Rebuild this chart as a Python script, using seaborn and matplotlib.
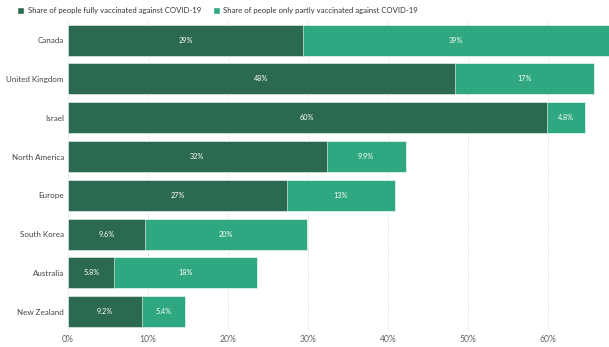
import matplotlib
matplotlib.use("Agg")
import matplotlib.pyplot as plt
import seaborn as sns
import pandas as pd
from matplotlib.patches import Patch

countries = ["Canada", "United Kingdom", "Israel", "North America", "Europe",
             "South Korea", "Australia", "New Zealand"]
fully = [29.4, 48.3, 59.8, 32.3, 27.4, 9.6, 5.8, 9.2]
partly = [39.0, 17.4, 4.8, 9.9, 13.4, 20.3, 17.8, 5.4]
fully_labels = ["29%", "48%", "60%", "32%", "27%", "9.6%", "5.8%", "9.2%"]
partly_labels = ["39%", "17%", "4.8%", "9.9%", "13%", "20%", "18%", "5.4%"]
xticks = [0, 10, 20, 30, 40, 50, 60]
legend_labels = ["Share of people fully vaccinated against COVID-19",
                 "Share of people only partly vaccinated against COVID-19"]

dark = "#2b6a50"
light = "#2fa882"
XMAX = 67.6

df = pd.DataFrame({"country": countries, "fully": fully, "partly": partly})
df["total"] = df["fully"] + df["partly"]

sns.set_theme(style="white")
plt.rcParams["font.family"] = ["Lato", "DejaVu Sans"]

fig = plt.figure(figsize=(6.09, 3.47), dpi=100)
ax = fig.add_axes([0.1117, 0.046, 0.8883, 0.894])

for x in xticks:
    ax.axvline(x, color="#d9d9d9", lw=0.7, ls=(0, (1, 1.5)), zorder=0)

sns.barplot(data=df, x="total", y="country", color=light, saturation=1,
            width=0.8, ax=ax, zorder=2, edgecolor="white", linewidth=0.4)
sns.barplot(data=df, x="fully", y="country", color=dark, saturation=1,
            width=0.8, ax=ax, zorder=3, edgecolor="white", linewidth=0.4)

for i, (f, p) in enumerate(zip(fully, partly)):
    ax.text(f / 2, i, fully_labels[i], ha="center", va="center",
            color="white", fontsize=5.2, zorder=5)
    cx = (f + min(f + p, XMAX)) / 2
    ax.text(cx, i, partly_labels[i], ha="center", va="center",
            color="white", fontsize=5.2, zorder=5)

ax.set_xlim(0, XMAX)
ax.set_ylim(7.5, -0.5)
ax.set_xticks(xticks)
ax.set_xticklabels([f"{t}%" for t in xticks], fontsize=6.2, color="#666666")
ax.tick_params(axis="y", labelsize=5.8, labelcolor="#444444", length=0, pad=3)
ax.tick_params(axis="x", length=0, pad=3)
ax.set_xlabel("")
ax.set_ylabel("")
for s in ax.spines.values():
    s.set_visible(False)

handles = [Patch(facecolor=dark), Patch(facecolor=light)]
fig.legend(handles, legend_labels, loc="upper left", bbox_to_anchor=(0.016, 1.0),
           ncol=2, frameon=False, fontsize=5.6, handlelength=0.9, handleheight=0.9,
           handletextpad=0.5, columnspacing=1.5, labelcolor="#333333")

fig.savefig("out.png", dpi=100)
